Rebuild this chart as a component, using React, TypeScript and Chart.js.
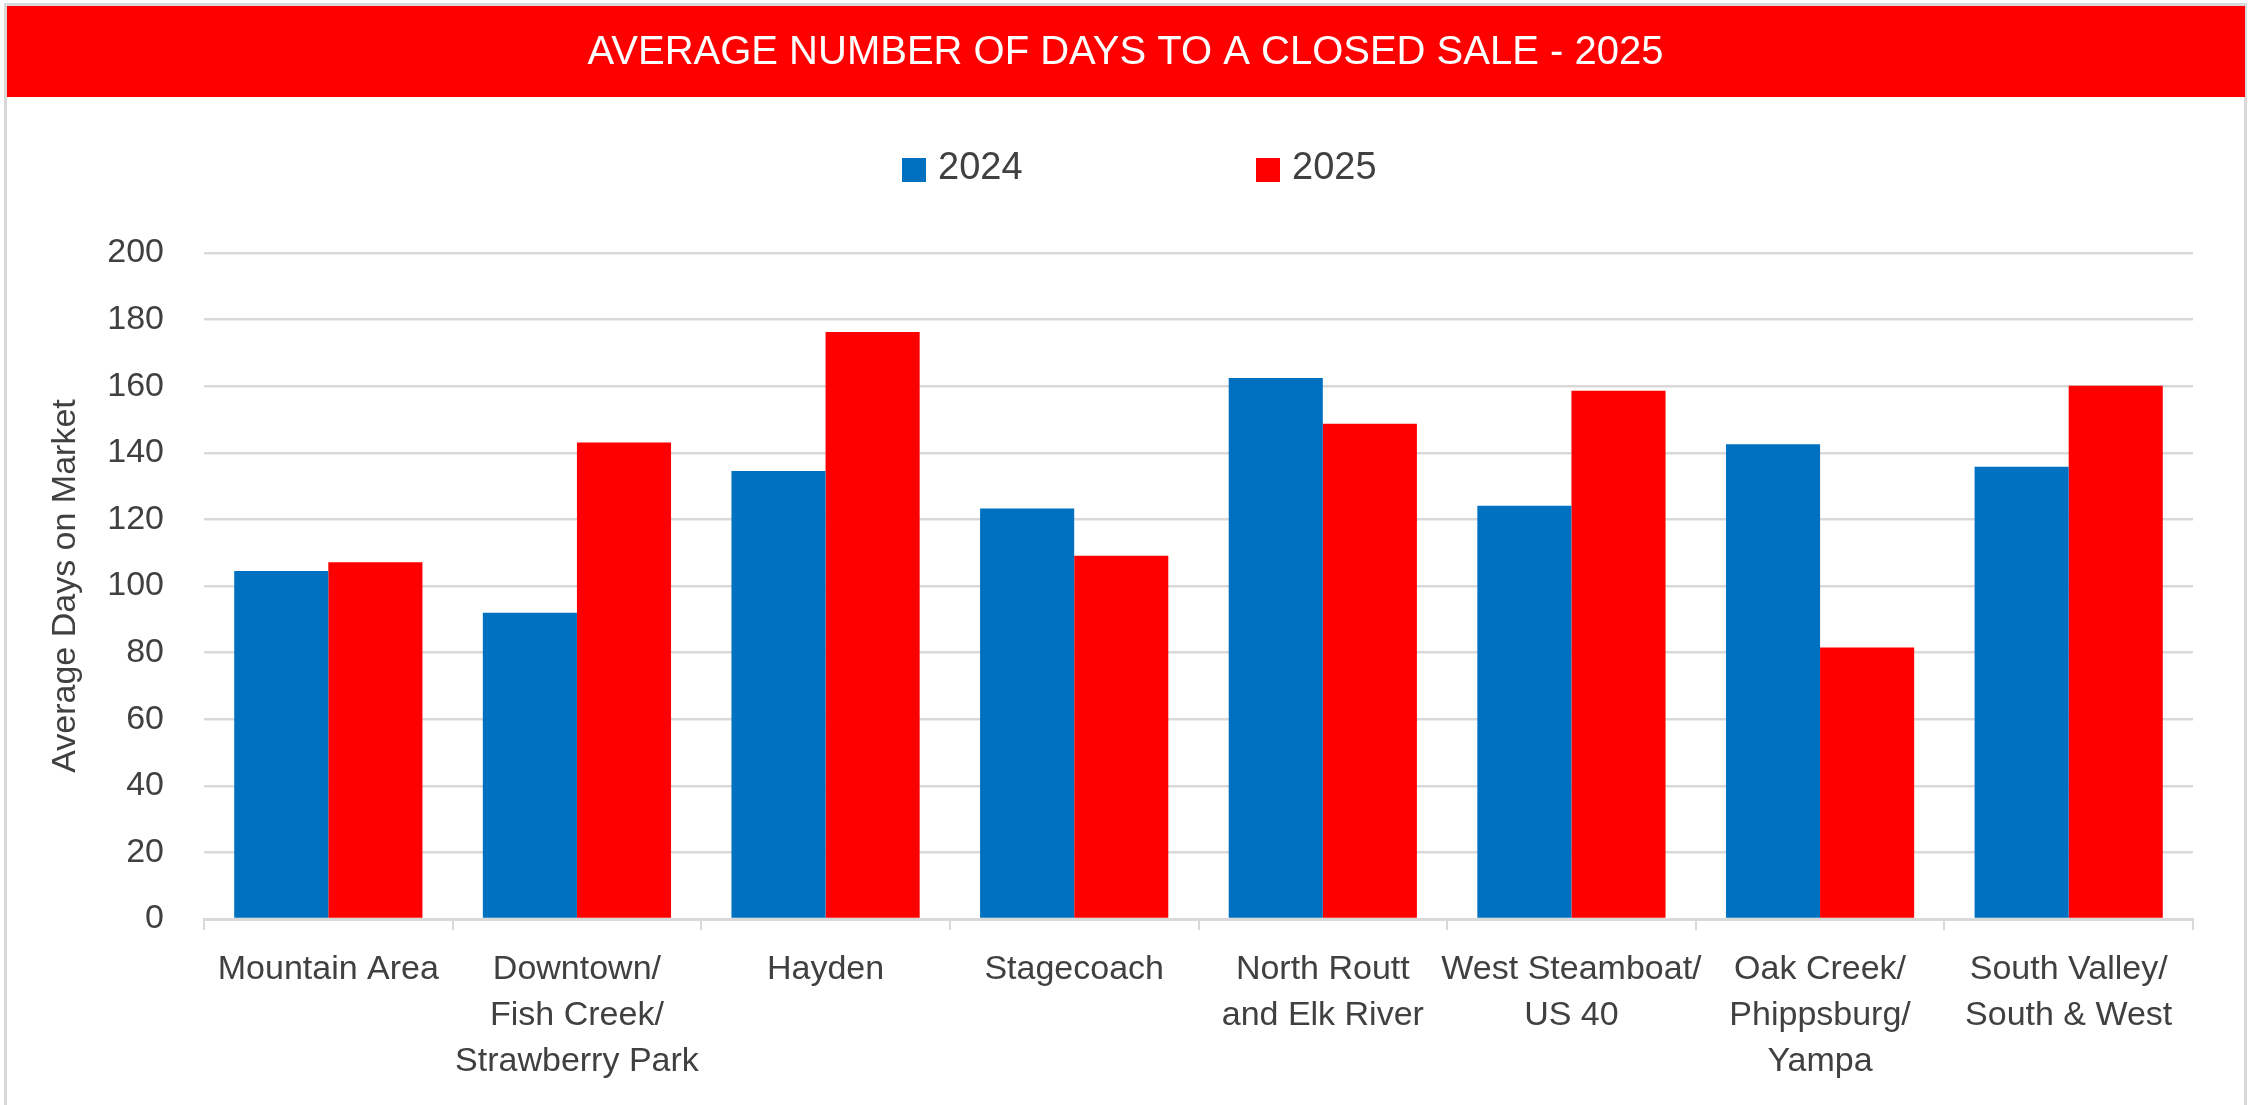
import React, { useEffect, useRef } from "react";
import { Chart, registerables } from "chart.js";

Chart.register(...registerables);

const TITLE = "AVERAGE NUMBER OF DAYS TO A CLOSED SALE - 2025";
const Y_AXIS_TITLE = "Average Days on Market";

const categories: (string | string[])[] = [
  "Mountain Area",
  ["Downtown/", "Fish Creek/", "Strawberry Park"],
  "Hayden",
  "Stagecoach",
  ["North Routt", "and Elk River"],
  ["West Steamboat/", "US 40"],
  ["Oak Creek/", "Phippsburg/", "Yampa"],
  ["South Valley/", "South & West"],
];

const seriesNames = ["2024", "2025"];
const values2024 = [104.5, 92, 134.5, 123.3, 162.5, 124.1, 142.6, 135.8];
const values2025 = [107.1, 143.1, 176.3, 109.1, 148.7, 158.6, 81.5, 160.1];
const seriesColors = ["#0070C0", "#FF0000"];

const yMin = 0;
const yMax = 200;
const yStep = 20;

const FONT = "'Liberation Sans', Arial, sans-serif";
const TEXT_COLOR = "#404040";
const GRID_COLOR = "#d9d9d9";

export default function App() {
  const ref = useRef<HTMLCanvasElement>(null);

  useEffect(() => {
    const canvas = ref.current;
    if (!canvas) return;

    const framePlugin = {
      id: "frameAndLegend",
      beforeDraw(chart: any) {
        const ctx = chart.ctx as CanvasRenderingContext2D;
        const w = chart.width;
        const h = chart.height;
        ctx.save();
        ctx.fillStyle = "#ffffff";
        ctx.fillRect(0, 0, w, h);
        // outer border
        ctx.strokeStyle = GRID_COLOR;
        ctx.lineWidth = 3;
        ctx.strokeRect(5.5, 4.5, w - 11, h + 20);
        // title band
        ctx.fillStyle = "#FF0000";
        ctx.fillRect(7, 6, w - 13, 91);
        ctx.fillStyle = "#ffffff";
        ctx.font = `40px ${FONT}`;
        ctx.textAlign = "center";
        ctx.textBaseline = "middle";
        ctx.fillText(TITLE, w / 2, 53);
        ctx.restore();
      },
      afterDraw(chart: any) {
        const ctx = chart.ctx as CanvasRenderingContext2D;
        const startX = 902;
        const stride = 354;
        const box = 24;
        const cy = 170;
        ctx.save();
        ctx.font = `38px ${FONT}`;
        ctx.textAlign = "left";
        ctx.textBaseline = "middle";
        chart.data.datasets.forEach((ds: any, i: number) => {
          const x = startX + i * stride;
          ctx.fillStyle = ds.backgroundColor;
          ctx.fillRect(x, cy - box / 2, box, box);
          ctx.fillStyle = TEXT_COLOR;
          ctx.fillText(ds.label, x + box + 12, cy - 1);
        });
        ctx.restore();
      },
    };

    const chart = new Chart(canvas, {
      type: "bar",
      data: {
        labels: categories,
        datasets: [
          {
            label: seriesNames[0],
            data: values2024,
            backgroundColor: seriesColors[0],
            borderWidth: 0,
            categoryPercentage: 0.757,
            barPercentage: 1.0,
          },
          {
            label: seriesNames[1],
            data: values2025,
            backgroundColor: seriesColors[1],
            borderWidth: 0,
            categoryPercentage: 0.757,
            barPercentage: 1.0,
          },
        ],
      },
      options: {
        responsive: false,
        animation: false,
        devicePixelRatio: 1,
        layout: { padding: { top: 253, right: 58, left: 0, bottom: 0 } },
        plugins: {
          legend: { display: false },
          title: { display: false },
          tooltip: { enabled: false },
        },
        scales: {
          x: {
            offset: true,
            grid: {
              display: true,
              drawOnChartArea: false,
              drawTicks: true,
              tickLength: 11,
              color: GRID_COLOR,
              lineWidth: 2,
              offset: true,
            },
            border: { display: true, color: GRID_COLOR, width: 3 },
            ticks: {
              autoSkip: false,
              maxRotation: 0,
              minRotation: 0,
              padding: 17,
              color: TEXT_COLOR,
              font: { family: FONT, size: 34, lineHeight: 1.35 },
            },
            afterFit(scale: any) {
              scale.height = 186;
            },
          },
          y: {
            min: yMin,
            max: yMax,
            grid: {
              color: GRID_COLOR,
              lineWidth: 2.5,
              drawTicks: false,
            },
            border: { display: false },
            ticks: {
              stepSize: yStep,
              padding: 40,
              color: TEXT_COLOR,
              font: { family: FONT, size: 34 },
            },
            title: {
              display: true,
              text: Y_AXIS_TITLE,
              color: TEXT_COLOR,
              font: { family: FONT, size: 34, lineHeight: 1.2 },
              padding: { top: 45, bottom: 0 },
            },
            afterFit(scale: any) {
              scale.width = 204;
            },
          },
        },
      },
      plugins: [framePlugin],
    });

    return () => chart.destroy();
  }, []);

  return (
    <div
      style={{
        position: "fixed",
        left: 0,
        top: 0,
        width: 2251,
        height: 1105,
        overflow: "hidden",
        background: "#ffffff",
      }}
    >
      <canvas
        ref={ref}
        width={2251}
        height={1105}
        style={{ display: "block", width: 2251, height: 1105 }}
      />
    </div>
  );
}
